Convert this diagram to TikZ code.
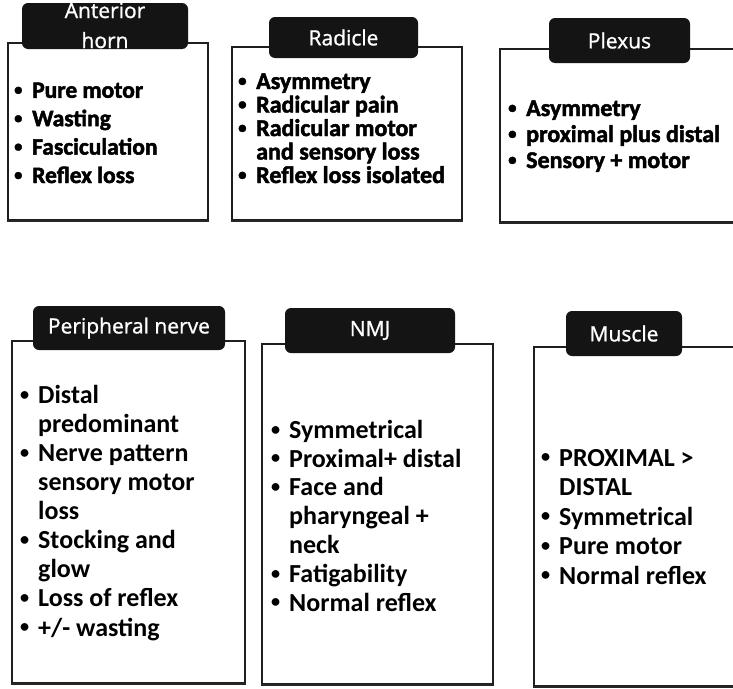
\documentclass[tikz,border=0pt]{standalone}
\usepackage{fontspec}
\setmainfont{Carlito}
\newfontfamily\titlefont{Open Sans}[BoldFont={Open Sans}, BoldFeatures={FakeBold=1}]
\newfontfamily\heavyfont{Carlito}[BoldFont={Carlito Bold}, BoldFeatures={FakeBold=2}]
\newcommand\myb{\makebox[18pt][l]{\raisebox{0.12em}{\scalebox{0.7}{•}}}}
\newcommand\myi{\hspace*{18pt}}
\begin{document}
\begin{tikzpicture}[x=1pt,y=-1pt,
  frame/.style={draw=black!88, line width=1.7pt, fill=white, rectangle, inner sep=0pt},
  tab/.style={fill=black!92, rounded corners=6pt, text=white, inner sep=0pt, align=center,
    font=\titlefont\bfseries\fontsize{21}{30}\selectfont},
  toptext/.style={anchor=base west, align=left, inner sep=0pt, text=black},
  bottext/.style={anchor=base west, align=left, inner sep=0pt, text=black},
  shadowline/.style={line width=2.6pt, draw=black!85}]
\useasboundingbox (0,0) rectangle (733,688);
\fill[white] (0,0) rectangle (733,688);
% top row frames
\node[frame, minimum width=200pt, minimum height=177pt] (b1) at (108,131.5) {};
\node[frame, minimum width=230pt, minimum height=173pt] (b2) at (347,133.5) {};
\node[frame, minimum width=245pt, minimum height=173pt] (b3) at (622.5,135.5) {};
% bottom row frames
\node[frame, minimum width=233pt, minimum height=342pt] (b4) at (128.5,512) {};
\node[frame, minimum width=231pt, minimum height=340pt] (b5) at (377.5,514) {};
\node[frame, minimum width=211pt, minimum height=339pt] (b6) at (639.5,516.5) {};
\foreach \b in {b1,b2,b3,b4,b5,b6}
  \draw[shadowline] (\b.south west) -- (\b.south east);
% tabs
\node[tab, minimum width=166pt, minimum height=46pt] (h1) at (105,26) {};
\node[tab, minimum width=149pt, minimum height=41pt] (h2) at (343.5,37.5) {Radicle};
\node[tab, minimum width=141pt, minimum height=45pt] (h3) at (619.5,40.5) {Plexus};
\node[tab, minimum width=192pt, minimum height=44pt] (h4) at (129,328) {Peripheral nerve};
\node[tab, minimum width=170pt, minimum height=45pt] (h5) at (370,330.5) {NMJ};
\node[tab, minimum width=116pt, minimum height=45pt] (h6) at (624,333.5) {Muscle};
\node[tab, fill=none, anchor=base] (l1) at (105,48) {Anterior\\horn};
% texts (anchor = baseline of last line)
\node[toptext, font=\heavyfont\bfseries\fontsize{23.5}{28.4}\selectfont] (t1) at (14,183)
  {\myb Pure motor\\\myb Wasting\\\myb Fasciculation\\\myb Reflex loss};
\node[toptext, font=\heavyfont\bfseries\fontsize{24}{23.5}\selectfont] (t2) at (238,183)
  {\myb Asymmetry\\\myb Radicular pain\\\myb Radicular motor\\\myi and sensory loss\\\myb Reflex loss isolated};
\node[toptext, font=\heavyfont\bfseries\fontsize{24}{26}\selectfont] (t3) at (508,168)
  {\myb Asymmetry\\\myb proximal plus distal\\\myb Sensory + motor};
\node[bottext, font=\bfseries\fontsize{26}{29.1}\selectfont] (t4) at (20,636)
  {\myb Distal\\\myi predominant\\\myb Nerve pattern\\\myi sensory motor\\\myi loss\\\myb Stocking and\\\myi glow\\\myb Loss of reflex\\\myb +/- wasting};
\node[bottext, font=\bfseries\fontsize{26}{28.8}\selectfont] (t5) at (271,611)
  {\myb Symmetrical\\\myb Proximal+ distal\\\myb Face and\\\myi pharyngeal +\\\myi neck\\\myb Fatigability\\\myb Normal reflex};
\node[bottext, font=\bfseries\fontsize{26}{29.5}\selectfont] (t6) at (541,584)
  {\myb PROXIMAL >\\\myi DISTAL\\\myb Symmetrical\\\myb Pure motor\\\myb Normal reflex};
\end{tikzpicture}
\end{document}
